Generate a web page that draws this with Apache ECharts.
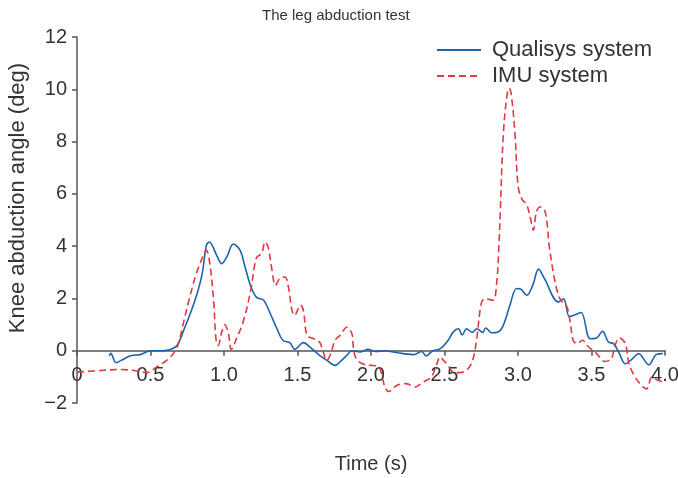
<!DOCTYPE html>
<html>
<head>
<meta charset="utf-8">
<script src="https://cdn.jsdelivr.net/npm/echarts@6/dist/echarts.min.js"></script>
<style>
html,body{margin:0;padding:0;background:#fff;}
#chart{width:678px;height:478px;}
</style>
</head>
<body>
<div id="chart"></div>
<script>
var xTicks = [0, 0.5, 1.0, 1.5, 2.0, 2.5, 3.0, 3.5, 4.0];
var yTicks = [-2, 0, 2, 4, 6, 8, 10, 12];

var qualisysTime = [0.22,0.23,0.265,0.30,0.37,0.43,0.50,0.56,0.63,0.68,0.73,0.80,0.85,0.88,0.90,0.95,0.985,1.02,1.063,1.11,1.14,1.18,1.22,1.27,1.31,1.36,1.40,1.45,1.48,1.54,1.585,1.65,1.70,1.755,1.80,1.835,1.87,1.925,1.98,2.03,2.10,2.15,2.22,2.29,2.345,2.375,2.42,2.47,2.525,2.56,2.595,2.62,2.65,2.69,2.72,2.76,2.78,2.82,2.865,2.90,2.945,2.99,3.02,3.06,3.10,3.14,3.18,3.275,3.31,3.35,3.39,3.43,3.49,3.535,3.575,3.615,3.65,3.69,3.73,3.78,3.82,3.89,3.94,3.985];
var qualisysAngle = [-0.2,-0.1,-0.46,-0.37,-0.18,-0.15,0.0,0.0,0.04,0.2,0.84,1.88,2.9,4.03,4.16,3.65,3.33,3.6,4.08,3.84,3.27,2.5,2.05,1.93,1.48,0.84,0.4,0.3,0.05,0.31,0.14,-0.18,-0.37,-0.56,-0.37,-0.18,0.0,-0.05,0.05,-0.03,0.0,-0.05,-0.11,-0.15,-0.03,-0.2,0.0,0.07,0.4,0.72,0.84,0.6,0.84,0.7,0.84,0.7,0.87,0.69,0.72,0.97,1.74,2.38,2.35,2.12,2.5,3.12,2.76,1.86,1.99,1.3,1.38,1.46,0.46,0.49,0.74,0.33,0.27,-0.11,-0.5,-0.3,-0.11,-0.54,-0.15,-0.11];

var imuTime = [0.0,0.18,0.29,0.38,0.475,0.54,0.61,0.655,0.69,0.72,0.77,0.815,0.86,0.88,0.905,0.93,0.945,0.96,0.985,1.005,1.03,1.05,1.085,1.13,1.18,1.22,1.255,1.28,1.30,1.325,1.35,1.38,1.415,1.44,1.46,1.48,1.52,1.54,1.565,1.61,1.65,1.675,1.70,1.73,1.755,1.79,1.835,1.87,1.88,1.90,1.96,2.0,2.05,2.095,2.12,2.175,2.24,2.30,2.355,2.41,2.445,2.47,2.49,2.525,2.56,2.605,2.66,2.695,2.72,2.75,2.775,2.83,2.855,2.87,2.88,2.90,2.925,2.94,2.955,2.98,3.0,3.025,3.06,3.08,3.105,3.125,3.15,3.185,3.215,3.25,3.285,3.33,3.355,3.375,3.40,3.44,3.47,3.535,3.59,3.635,3.66,3.69,3.73,3.755,3.79,3.84,3.875,3.91,3.94,3.98];
var imuAngle = [-0.82,-0.75,-0.72,-0.75,-0.84,-0.63,-0.37,-0.11,0.27,0.97,2.12,3.0,3.65,3.84,3.27,1.86,0.46,0.2,0.72,1.0,0.65,0.05,0.46,1.1,2.25,3.55,3.72,4.16,3.97,3.14,2.5,2.76,2.82,2.38,1.61,1.35,1.74,1.54,0.59,0.46,0.33,-0.05,-0.37,-0.05,0.4,0.59,0.9,0.65,0.14,-0.31,-0.54,-0.56,-0.6,-1.39,-1.56,-1.33,-1.26,-1.39,-1.2,-1.01,-0.56,-0.24,-0.35,-0.56,-0.82,-0.84,-0.69,-0.31,0.5,1.8,1.99,1.93,2.6,4.0,5.4,8.25,9.78,10.04,9.78,8.25,6.33,5.82,5.57,5.18,4.61,5.31,5.5,5.31,3.9,2.7,1.99,1.72,1.1,0.4,0.27,0.4,0.2,-0.11,-0.41,-0.31,0.2,0.49,0.27,-0.5,-0.94,-1.33,-1.46,-1.01,-1.1,-1.18];

function pairs(xs, ys) {
  return xs.map(function (x, i) { return [x, ys[i]]; });
}

var FONT = 'Liberation Sans, Arial, Helvetica, sans-serif';
var TXT = '#333333';
var AX = '#555555';

var GRID_TOP = 37, GRID_BOTTOM = 75, H = 478;
var yMin = yTicks[0], yMax = yTicks[yTicks.length - 1];
// distance (px) from bottom of the grid up to the zero line, so the x axis sits at y = 0
var zeroOffset = (0 - yMin) / (yMax - yMin) * (H - GRID_TOP - GRID_BOTTOM);

var chart = echarts.init(document.getElementById('chart'), null, {renderer: 'canvas'});
chart.setOption({
  animation: false,
  backgroundColor: '#ffffff',
  title: {
    text: 'The leg abduction test',
    left: 257, top: 3,
    textStyle: {fontFamily: FONT, fontSize: 15, fontWeight: 'normal', color: TXT}
  },
  legend: {
    orient: 'vertical',
    left: 431, top: 34,
    itemWidth: 44, itemHeight: 14, itemGap: 4,
    itemStyle: {opacity: 0},
    textStyle: {fontFamily: FONT, fontSize: 22, color: TXT, padding: [0, 0, 0, 6]},
    data: ['Qualisys system', 'IMU system']
  },
  grid: {left: 77, right: 13, top: GRID_TOP, bottom: GRID_BOTTOM, containLabel: false, outerBoundsMode: 'none'},
  xAxis: {
    type: 'value',
    min: xTicks[0], max: xTicks[xTicks.length - 1], interval: 0.5,
    offset: -zeroOffset,
    name: 'Time (s)', nameLocation: 'middle', nameGap: 104,
    nameTextStyle: {fontFamily: FONT, fontSize: 20, color: TXT},
    axisLine: {onZero: false, lineStyle: {color: AX, width: 1.5}},
    axisTick: {show: true, length: 5, lineStyle: {color: AX, width: 1.5}},
    axisLabel: {
      fontFamily: FONT, fontSize: 20, color: TXT, margin: 15,
      showMinLabel: true, showMaxLabel: true,
      formatter: function (v) { return v === 0 ? '0' : v.toFixed(1); }
    },
    splitLine: {show: false}
  },
  yAxis: {
    type: 'value',
    min: yMin, max: yMax, interval: 2,
    axisLine: {show: true, onZero: false, lineStyle: {color: AX, width: 1.5}},
    axisTick: {show: true, length: 5, lineStyle: {color: AX, width: 1.5}},
    axisLabel: {
      fontFamily: FONT, fontSize: 20, color: TXT, margin: 10,
      formatter: function (v) { return String(v).replace('-', '\u2212'); }
    },
    splitLine: {show: false}
  },
  graphic: [{
    type: 'text',
    x: 18, y: 198,
    rotation: Math.PI / 2,
    style: {
      text: 'Knee abduction angle (deg)',
      font: '22px ' + FONT,
      fill: TXT,
      textAlign: 'center',
      textVerticalAlign: 'middle',
      align: 'center',
      verticalAlign: 'middle'
    }
  }],
  series: [
    {
      name: 'Qualisys system',
      type: 'line',
      data: pairs(qualisysTime, qualisysAngle),
      smooth: 0.35,
      symbol: 'none', showSymbol: false,
      lineStyle: {color: '#1f63ad', width: 1.6},
      itemStyle: {color: '#1f63ad'}
    },
    {
      name: 'IMU system',
      type: 'line',
      data: pairs(imuTime, imuAngle),
      smooth: 0.35,
      symbol: 'none', showSymbol: false,
      lineStyle: {color: '#e23842', width: 1.6, type: [7, 4]},
      itemStyle: {color: '#e23842'}
    }
  ]
});
</script>
</body>
</html>
